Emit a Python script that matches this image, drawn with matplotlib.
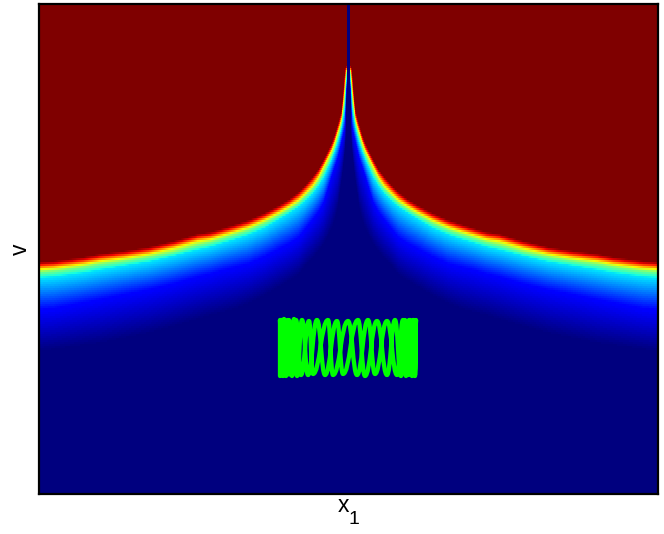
import numpy as np
import matplotlib
matplotlib.use("Agg")
import matplotlib.pyplot as plt
from matplotlib.path import Path
from matplotlib.patches import PathPatch

plt.rcParams['font.family'] = ['Liberation Sans', 'DejaVu Sans']

# field levels (knots of jet) and where each one sits, read per distance from the spike
levels = [0.0, 0.11, 0.35, 0.5, 0.66, 0.89, 1.0]
dist = [1.7, 2, 3, 4, 5.5, 7, 9, 11, 14, 17, 21, 25, 30, 36, 43, 50, 59, 69, 84, 100, 112, 125, 138,
        151, 175, 200, 225, 249, 265, 280, 295, 310]
row_000 = [64, 100, 143, 155, 170, 182, 196, 210, 221, 230, 238, 245, 252, 259, 266, 275, 281, 287, 296,
           304, 309, 313, 316, 320, 327, 334, 339, 344, 346, 348, 350, 352]
row_011 = [64, 90, 115, 130, 137, 143, 152, 160, 169, 178, 192, 205, 214, 222, 231, 240, 246, 251, 259,
           266, 269, 272, 276, 279, 286, 292, 297, 302, 305, 308, 311, 312]
row_035 = [64, 80, 95, 110, 120, 128, 136, 143, 152, 160, 169, 178, 186, 194, 201, 207, 213, 219, 228,
           235, 239, 243, 247, 250, 256, 262, 266, 270, 273, 275, 277, 278]
row_050 = [64, 74, 87, 101, 113, 123, 131, 138, 148, 155, 164, 172, 181, 189, 196, 203, 209, 215, 223,
           230, 234, 238, 242, 245, 252, 257, 261, 264, 267, 269, 271, 272]
row_066 = [64, 70, 80, 92, 107, 119, 127, 133, 143, 151, 159, 167, 177, 186, 193, 200, 206, 212, 220,
           227, 231, 235, 239, 241, 248, 254, 258, 261, 264, 266, 268, 269]
row_089 = [64, 68, 71, 82, 100, 114, 122, 129, 139, 147, 155, 163, 172, 180, 188, 195, 202, 208, 216,
           223, 227, 231, 235, 237, 244, 250, 254, 257, 260, 262, 264, 265]
row_100 = [64, 66, 67, 75, 95, 110, 118, 125, 135, 143, 152, 160, 169, 177, 185, 192, 199, 205, 213,
           220, 224, 228, 232, 234, 241, 247, 251, 254, 257, 259, 261, 262]
spike_half = 1.6

# trajectory turning points, alternating top / bottom, right sweep then left sweep
orbit_x = [281, 282, 284, 286, 288, 291, 294, 297, 302, 308, 317, 325, 337, 343, 358, 365, 377, 387,
           395, 401, 405, 408, 410, 412, 414, 415, 416, 415, 413, 411, 409, 406, 403, 397, 387, 375,
           368, 357, 348, 333, 328, 313, 309, 301, 296, 292, 289, 287, 285, 283, 282, 281, 280, 280]
orbit_y = [320, 375, 319, 376, 320, 375, 319, 376, 320, 375, 320, 375, 321, 374, 320, 376, 321, 375,
           320, 376, 320, 375, 320, 376, 320, 375, 320, 376, 320, 375, 320, 376, 320, 375, 321, 374,
           320, 375, 321, 375, 320, 374, 321, 375, 320, 376, 320, 375, 320, 376, 320, 375, 320, 376]

centre = 348.5
left, right = -309.5, 309.5
top, bottom = 4.0, 494.0

fig = plt.figure(figsize=(6.64, 5.34), dpi=100)
ax = fig.add_axes([39 / 664, 1 - 494 / 534, 619 / 664, 490 / 534])

# field on a 2 px grid, one column at a time from the level rows
rows = [row_100, row_089, row_066, row_050, row_035, row_011, row_000]
desc = levels[::-1]
xs = np.arange(left + 0.5, right, 1.0)
ys = np.arange(top + 1.0, bottom, 2.0)
field = np.zeros((len(ys), len(xs)))
for j, x in enumerate(xs):
    d = abs(x)
    if d < spike_half:
        continue
    heights = [np.interp(d, dist, r) for r in rows]
    field[:, j] = np.interp(ys, heights, desc)

ax.imshow(field, extent=(left, right, bottom, top), cmap='jet', vmin=0, vmax=1,
          aspect='auto', interpolation='nearest')

# rounded trajectory: one bezier between neighbouring turning points
verts = [(orbit_x[0] - centre, orbit_y[0])]
codes = [Path.MOVETO]
for i in range(1, len(orbit_x)):
    x0, y0 = orbit_x[i - 1] - centre, orbit_y[i - 1]
    x1, y1 = orbit_x[i] - centre, orbit_y[i]
    dx = x1 - x0
    verts += [(x0 + 0.45 * dx, y0), (x1 - 0.45 * dx, y1), (x1, y1)]
    codes += [Path.CURVE4] * 3
ax.add_patch(PathPatch(Path(verts, codes), fill=False, edgecolor=(0, 1, 0), lw=3.1,
                       joinstyle='round', capstyle='round'))

ax.set_xlim(left, right)
ax.set_ylim(bottom, top)
ax.set_xticks([])
ax.set_yticks([])
for s in ax.spines.values():
    s.set_linewidth(1.6)
    s.set_color('black')

fig.text(343 / 664, 1 - 506 / 534, "x", fontsize=16.5, ha='center', va='center')
fig.text(354 / 664, 1 - 520 / 534, "1", fontsize=14, ha='center', va='center')
fig.text(20 / 664, 1 - 249 / 534, "v", fontsize=16.5, rotation=90, ha='center', va='center')

fig.savefig("out.png", dpi=100)
